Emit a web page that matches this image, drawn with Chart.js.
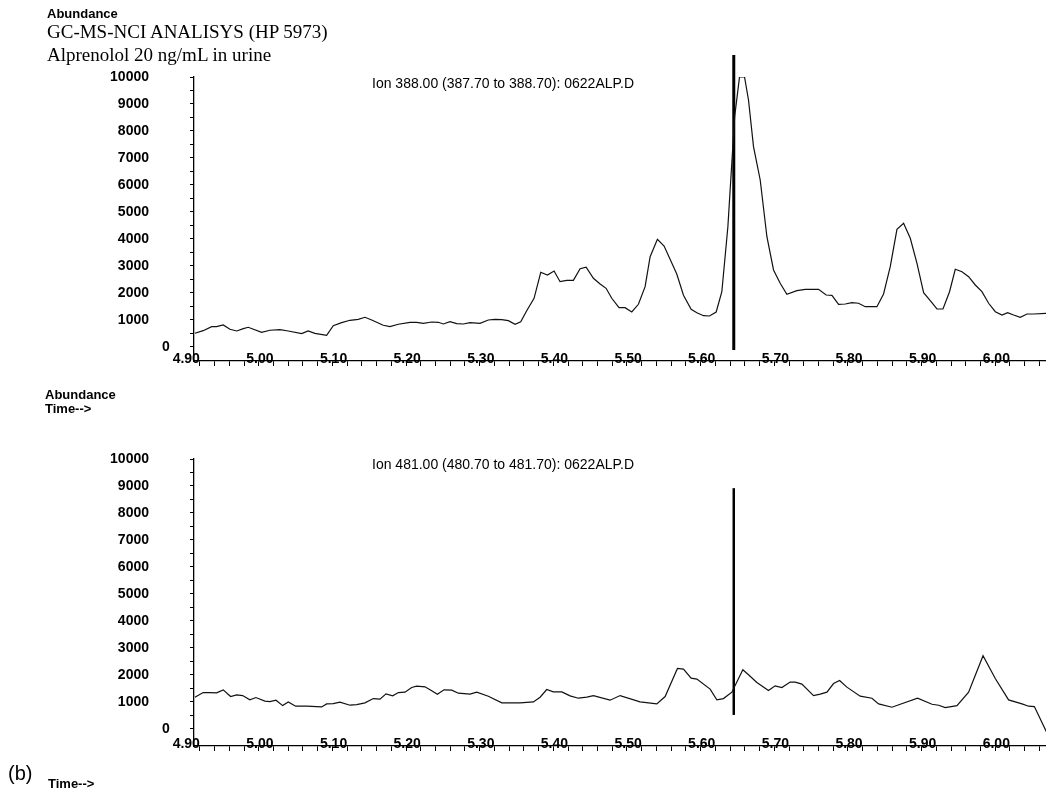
<!DOCTYPE html>
<html>
<head>
<meta charset="utf-8">
<script src="https://cdn.jsdelivr.net/npm/chart.js@4.4.0/dist/chart.umd.min.js"></script>
<style>
  body { margin: 0; background: #fff; width: 1046px; height: 799px; position: relative; overflow: hidden; }
  canvas { position: absolute; left: 0; }
  .t { position: absolute; white-space: nowrap; line-height: 1; color: #000; }
  .sans { font-family: "Liberation Sans", Arial, sans-serif; }
  .serif { font-family: "Liberation Serif", "Times New Roman", serif; }
</style>
</head>
<body>
<canvas id="ion388" width="1046" height="400" style="top:0px"></canvas>
<canvas id="ion481" width="1046" height="399" style="top:400px"></canvas>

<div class="t sans" style="left:47px;top:7px;font-size:13px;font-weight:bold">Abundance</div>
<div class="t serif" style="left:47px;top:22px;font-size:19px">GC-MS-NCI ANALISYS (HP 5973)</div>
<div class="t serif" style="left:47px;top:45px;font-size:19px">Alprenolol 20 ng/mL in urine</div>
<div class="t sans" style="left:372px;top:76px;font-size:14px">Ion 388.00 (387.70 to 388.70): 0622ALP.D</div>
<div class="t sans" style="left:45px;top:388px;font-size:13px;font-weight:bold">Abundance</div>
<div class="t sans" style="left:45px;top:402px;font-size:13px;font-weight:bold">Time--&gt;</div>
<div class="t sans" style="left:372px;top:457px;font-size:14px">Ion 481.00 (480.70 to 481.70): 0622ALP.D</div>
<div class="t sans" style="left:8px;top:763px;font-size:20px">(b)</div>
<div class="t sans" style="left:48px;top:777px;font-size:13px;font-weight:bold">Time--&gt;</div>

<script>
// ion 388 trace (time in min, abundance)
const ion388Time = [4.8932, 4.9045, 4.916, 4.9227, 4.9317, 4.9408, 4.950, 4.959, 4.9657, 4.9838,
  4.995, 5.0087, 5.020, 5.0382, 5.047, 5.0562, 5.0721, 5.0811, 5.0925, 5.1038,
  5.115, 5.1242, 5.1333, 5.149, 5.1582, 5.1694, 5.1853, 5.1944, 5.2034, 5.2148,
  5.2238, 5.2306, 5.2397, 5.2488, 5.2578, 5.2668, 5.2804, 5.2917, 5.3008, 5.3099,
  5.3189, 5.328, 5.3357, 5.3438, 5.3538, 5.3629, 5.3719, 5.381, 5.3891, 5.3982,
  5.4072, 5.4163, 5.4245, 5.4344, 5.4435, 5.4516, 5.4593, 5.4692, 5.4774, 5.4865,
  5.4955, 5.5046, 5.5114, 5.5213, 5.5304, 5.5476, 5.5567, 5.5671, 5.5749, 5.5839,
  5.592, 5.6011, 5.6088, 5.617, 5.6262, 5.6328, 5.6396, 5.645, 5.6518, 5.6609,
  5.670, 5.679, 5.688, 5.6971, 5.7107, 5.722, 5.7401, 5.7505, 5.7583, 5.7673,
  5.7764, 5.7855, 5.7944, 5.8035, 5.8194, 5.8284, 5.8375, 5.8466, 5.8556, 5.8647,
  5.8738, 5.8828, 5.8918, 5.9009, 5.9091, 5.918, 5.9258, 5.9349, 5.9439, 5.953,
  5.962, 5.9711, 5.9802, 5.9893, 5.9969, 6.005, 6.0141, 6.0232, 6.0322, 6.0495];
const ion388Abundance = [507, 604, 752, 752, 815, 656, 593, 678, 730, 544,
  619, 641, 593, 493, 593, 507, 433, 789, 900, 989,
  1026, 1100, 1000, 804, 752, 841, 915, 915, 878, 926,
  915, 852, 937, 863, 852, 900, 878, 1000, 1026, 1011,
  974, 841, 937, 1344, 1804, 2767, 2667, 2815, 2419, 2470,
  2470, 2900, 2952, 2544, 2333, 2174, 1804, 1456, 1456, 1296,
  1581, 2233, 3344, 3989, 3741, 2704, 1915, 1396, 1270, 1159,
  1148, 1296, 2048, 4456, 8530, 10000, 10000, 9148, 7419, 6185,
  4085, 2852, 2359, 1952, 2085, 2137, 2137, 1926, 1915, 1581,
  1593, 1641, 1619, 1493, 1493, 1963, 2974, 4359, 4581, 4026,
  3100, 2011, 1715, 1407, 1407, 2048, 2878, 2789, 2604, 2296,
  2048, 1619, 1307, 1185, 1270, 1185, 1100, 1222, 1222, 1248];

// ion 481 trace
const ion481Time = [4.8932, 4.9045, 4.9136, 4.9227, 4.9317, 4.9417, 4.9498, 4.958, 4.9679, 4.976,
  4.9883, 4.9951, 5.0033, 5.0124, 5.020, 5.030, 5.045, 5.0653, 5.0721, 5.0811,
  5.0902, 5.1038, 5.1129, 5.1242, 5.1355, 5.1446, 5.1527, 5.1618, 5.1695, 5.1785,
  5.1876, 5.1944, 5.2057, 5.2148, 5.2225, 5.2315, 5.242, 5.251, 5.2668, 5.276,
  5.2917, 5.31, 5.3348, 5.3529, 5.362, 5.371, 5.380, 5.3915, 5.4027, 5.414,
  5.4254, 5.4344, 5.457, 5.4707, 5.4978, 5.5205, 5.5318, 5.5485, 5.5567, 5.5671,
  5.5749, 5.5929, 5.602, 5.611, 5.6224, 5.6373, 5.645, 5.6564, 5.6721, 5.6812,
  5.6903, 5.7016, 5.7084, 5.7175, 5.7333, 5.7424, 5.7515, 5.7605, 5.7687, 5.7786,
  5.7967, 5.8126, 5.8217, 5.8398, 5.8511, 5.8746, 5.8942, 5.9032, 5.9122, 5.9281,
  5.9439, 5.9635, 5.9801, 5.9982, 6.0164, 6.0254, 6.0332, 6.0495];
const ion481Abundance = [1178, 1350, 1350, 1338, 1450, 1201, 1264, 1238, 1078, 1164,
  1030, 1015, 1067, 866, 1004, 844, 844, 818, 929, 941,
  991, 881, 904, 967, 1126, 1104, 1301, 1227, 1350, 1363,
  1537, 1587, 1561, 1413, 1289, 1450, 1438, 1326, 1289, 1363,
  1215, 967, 967, 1004, 1178, 1462, 1376, 1376, 1227, 1140,
  1178, 1238, 1067, 1238, 1004, 929, 1201, 2242, 2219, 1885,
  1848, 1476, 1078, 1126, 1364, 2193, 2007, 1721, 1424, 1599,
  1535, 1736, 1736, 1662, 1238, 1289, 1364, 1684, 1796, 1550,
  1215, 1140, 929, 806, 917, 1140, 917, 880, 793, 867,
  1364, 2714, 1870, 1078, 929, 844, 829, -100];

// retention time marker
const markerTime = 5.625;
const marker388 = [-110, 10815];
const marker481 = [520, 8920];

const timeTicks = ['4.90', '5.00', '5.10', '5.20', '5.30', '5.40', '5.50', '5.60', '5.70', '5.80', '5.90', '6.00'];
const abundanceTicks = [1000, 2000, 3000, 4000, 5000, 6000, 7000, 8000, 9000, 10000];

const axisFont = {family: '"Liberation Sans", Arial, sans-serif', size: 14, weight: 'bold'};

function toPoints(xs, ys) {
  return xs.map((x, i) => ({x: x, y: ys[i]}));
}

// tick marks every 500, labels only on the thousands
function yTickMarks(scale) {
  const ticks = [];
  for (let v = 0; v <= 10000; v += 500) ticks.push({value: v});
  scale.ticks = ticks;
}

// the "0" label sits off to the right of the others
const zeroLabel = {
  id: 'zeroLabel',
  afterDraw(chart) {
    const y = chart.scales.y;
    const ctx = chart.ctx;
    ctx.save();
    ctx.font = 'bold 14px "Liberation Sans", Arial, sans-serif';
    ctx.fillStyle = '#000';
    ctx.textAlign = 'center';
    ctx.textBaseline = 'middle';
    ctx.fillText('0', y.right - 28, y.getPixelForValue(0));
    ctx.restore();
  }
};

function makeChart(id, times, values, markerY, markerWidth, yMin, padTop, axisH) {
  return new Chart(document.getElementById(id).getContext('2d'), {
    type: 'line',
    data: {
      datasets: [
        {data: toPoints(times, values), borderColor: '#111', borderWidth: 1.2, pointRadius: 0, tension: 0},
        {data: markerY.map(v => ({x: markerTime, y: v})), borderColor: '#000', borderWidth: markerWidth, pointRadius: 0, clip: false}
      ]
    },
    options: {
      responsive: false,
      animation: false,
      events: [],
      layout: {padding: {top: padTop, left: 0, right: 0, bottom: 0}},
      plugins: {legend: {display: false}, tooltip: {enabled: false}},
      scales: {
        x: {
          type: 'linear', min: 4.892, max: 6.049,
          afterFit: s => { s.height = axisH; s.paddingLeft = 0; s.paddingRight = 0; },
          grid: {drawOnChartArea: false, drawTicks: true, tickLength: 5, color: '#000'},
          border: {display: true, color: '#000', width: 1.3},
          ticks: {
            // mirror keeps the labels from being clipped where they sit on the axis line
            stepSize: 0.02, autoSkip: false, maxRotation: 0, minRotation: 0, includeBounds: false,
            mirror: true, align: 'end', padding: -7, color: '#000', font: axisFont,
            callback: v => timeTicks.includes(v.toFixed(2)) ? v.toFixed(2) : ''
          }
        },
        y: {
          min: yMin, max: 10000,
          afterBuildTicks: yTickMarks,
          afterFit: s => { s.width = 194; s.paddingTop = 0; s.paddingBottom = 0; },
          grid: {drawOnChartArea: false, drawTicks: true, tickLength: 4, color: '#000'},
          border: {display: true, color: '#000', width: 1.3},
          ticks: {
            autoSkip: false, padding: 41, color: '#000', font: axisFont,
            callback: v => abundanceTicks.includes(v) ? String(v) : ''
          }
        }
      }
    },
    plugins: [zeroLabel]
  });
}

makeChart('ion388', ion388Time, ion388Abundance, marker388, 3, -519, 77, 39);
makeChart('ion481', ion481Time, ion481Abundance, marker481, 2.5, -630, 59, 53);
</script>
</body>
</html>
